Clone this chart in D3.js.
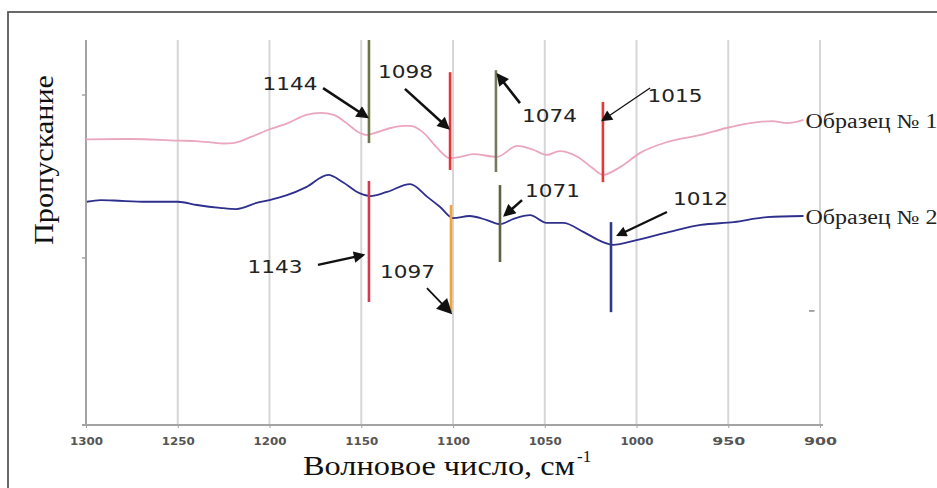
<!DOCTYPE html>
<html><head><meta charset="utf-8">
<script src="https://cdn.jsdelivr.net/npm/d3@7"></script>
<style>body{margin:0;background:#fff;} svg{display:block;}</style>
</head><body>
<svg id="chart" width="937" height="488"></svg>
<script>
// ---------- data ----------
const xTicks = [1300, 1250, 1200, 1150, 1100, 1050, 1000, 950, 900];
const yTickValues = [40, 80];
const seriesNames = ["Образец № 1", "Образец № 2"];

const wave1 = [1300,1275,1250,1240,1225,1220,1210,1200,1190,1180,1172,1165,1158,1152,1147,1142.5,1134,1127,1123,1116,1109,1101.6,1096,1089,1076,1065,1056,1049,1042,1032,1024,1018.3,1009,998,983,965,951,938,926,918,909];
const sample1 = [69.1,69.2,68.8,68.7,68.1,68.2,69.7,71.6,73.1,75.1,75.6,75.1,73.1,71.0,70.2,70.7,71.9,72.4,72.4,70.7,67.2,64.5,64.8,65.5,64.8,67.5,66.5,65.3,66.2,64.8,62.1,60.4,62.3,65.8,68.5,70.2,71.9,73.1,73.6,73.1,73.9];

const wave2 = [1299.5,1292,1285,1267,1250,1239.5,1227,1218,1207,1200,1190.5,1180,1168,1160,1151,1145,1136,1123.4,1114,1107,1100,1091,1081.5,1074.4,1067,1058,1049,1040,1029,1018.3,1012.8,1000,982,965,947,929,909];
const sample2 = [53.8,54.2,54.1,53.8,53.8,53.0,52.3,52.0,53.5,54.2,55.4,57.4,60.4,58.6,55.9,55.2,56.2,58.1,55.0,52.5,49.8,50.3,49.3,48.3,49.6,50.5,48.6,48.6,46.4,43.9,43.2,44.4,46.4,48.1,48.8,50.0,50.3];

// peak marker lines: label, wavenumber position, top value, bottom value
const peakLabels = ["1144", "1098", "1074", "1015", "1143", "1097", "1071", "1012"];
const peakPos    = [1145.8, 1101.6, 1076.6, 1018.3, 1145.8, 1101.1, 1074.4, 1013.9];
const peakTop    = [93.5, 85.6, 86.1, 78.3, 58.9, 53.0, 57.9, 48.8];
const peakBottom = [68.2, 61.6, 61.1, 58.6, 29.2, 26.7, 39.0, 26.7];

// annotation label anchors (wavenumber, value) and arrows (tail -> tip)
const labelW = [1188.8, 1125.9, 1047.4, 979.0, 1197.0, 1124.8, 1045.8, 965.1];
const labelV = [81.2, 84.2, 73.4, 78.3, 36.3, 35.1, 54.9, 53.0];
const arrowTailW = [1170.8, 1126.2, 1063.5, 992.6, 1173.6, 1114.2, 1062.4, 983.4];
const arrowTailV = [81.7, 81.5, 78.0, 81.7, 38.3, 32.6, 54.2, 51.3];
const arrowTipW  = [1146.9, 1102.7, 1075.5, 1018.3, 1149.0, 1101.6, 1071.7, 1010.1];
const arrowTipV  = [74.6, 71.9, 84.9, 73.85, 40.7, 26.7, 50.5, 45.6];

// ---------- styles ----------
const peakColors = ["#6c7546", "#e2353a", "#737b5c", "#e53935", "#d23a4e", "#f2a33a", "#5c6242", "#2d3a88"];
const arrowWidths = [2.6, 2.6, 2.6, 1.3, 2.4, 1.8, 2.6, 2.2];
const seriesColors = ["#eba6bf", "#2e2f8c"];

// ---------- chart ----------
const svg = d3.select("#chart");
const x = d3.scaleLinear().domain([1300, 900]).range([86, 820]);
const y = d3.scaleLinear().domain([-1, 93.5]).range([425, 40]);

svg.append("rect").attr("width", 937).attr("height", 488).attr("fill", "#fff");
// outer frame (extends past right/bottom edges)
svg.append("rect").attr("x", 8).attr("y", 12).attr("width", 960).attr("height", 500)
  .attr("fill", "none").attr("stroke", "#5a5a5a").attr("stroke-width", 1.8);

const defs = svg.append("defs");
defs.append("marker").attr("id", "ah").attr("viewBox", "0 0 10 10")
  .attr("refX", 8).attr("refY", 5).attr("markerWidth", 5.5).attr("markerHeight", 4.8)
  .attr("markerUnits", "strokeWidth").attr("orient", "auto")
  .append("path").attr("d", "M0,0 L10,5 L0,10 z").attr("fill", "#111");
defs.append("marker").attr("id", "ahThin").attr("viewBox", "0 0 10 10")
  .attr("refX", 8).attr("refY", 5).attr("markerWidth", 10).attr("markerHeight", 8.5)
  .attr("markerUnits", "strokeWidth").attr("orient", "auto")
  .append("path").attr("d", "M0,0 L10,5 L0,10 z").attr("fill", "#111");

// gridlines
svg.append("g").selectAll("line").data(xTicks.slice(1)).join("line")
  .attr("x1", d => x(d)).attr("x2", d => x(d))
  .attr("y1", y(93.5)).attr("y2", y(-1))
  .attr("stroke", "#d6d6d6").attr("stroke-width", 2);

// y axis line + ticks
svg.append("line").attr("x1", x(1300)).attr("x2", x(1300)).attr("y1", y(93.5)).attr("y2", y(-1))
  .attr("stroke", "#a3a3a3").attr("stroke-width", 2);
svg.append("g").selectAll("line").data(yTickValues).join("line")
  .attr("x1", x(1300) - 4).attr("x2", x(1300)).attr("y1", d => y(d)).attr("y2", d => y(d))
  .attr("stroke", "#a3a3a3").attr("stroke-width", 1.5);
// stray tick near right side
svg.append("line").attr("x1", x(906)).attr("x2", x(903)).attr("y1", y(27)).attr("y2", y(27))
  .attr("stroke", "#888").attr("stroke-width", 1.5);

// x axis
const xAxis = d3.axisBottom(x).tickValues(xTicks).tickSize(3).tickPadding(9).tickFormat(d3.format("d"));
const gx = svg.append("g").attr("transform", `translate(0,${y(-1)})`).call(xAxis);
gx.select(".domain").attr("stroke", "#a3a3a3").attr("stroke-width", 2).attr("d", `M${x(1300)-4},0H${x(900)+3}`);
gx.selectAll(".tick line").attr("stroke", "#a3a3a3");
gx.selectAll(".tick text").attr("font-family", "DejaVu Sans").attr("font-size", 11)
  .attr("font-weight", "bold").attr("fill", "#555")
  .attr("textLength", 33).attr("lengthAdjust", "spacingAndGlyphs");

// curves
const line = d3.line().x(d => x(d[0])).y(d => y(d[1])).curve(d3.curveMonotoneX);
const s1 = wave1.map((w, i) => [w, sample1[i]]).reverse();
const s2 = wave2.map((w, i) => [w, sample2[i]]).reverse();
[s1, s2].forEach((s, i) => {
  svg.append("path").datum(s).attr("d", line).attr("fill", "none")
    .attr("stroke", seriesColors[i]).attr("stroke-width", 1.8).attr("stroke-linejoin", "round");
});

// series labels
[[sample1, wave1], [sample2, wave2]].forEach(([vals, ws], i) => {
  svg.append("text").attr("x", x(ws[ws.length - 1]) + 2).attr("y", y(vals[vals.length - 1]) + 8)
    .attr("font-family", "Liberation Serif").attr("font-size", 20).attr("fill", "#222")
    .attr("textLength", 132).attr("lengthAdjust", "spacingAndGlyphs")
    .text(seriesNames[i]);
});

// peak lines
svg.append("g").selectAll("line").data(peakLabels).join("line")
  .attr("x1", (d, i) => x(peakPos[i])).attr("x2", (d, i) => x(peakPos[i]))
  .attr("y1", (d, i) => y(peakTop[i])).attr("y2", (d, i) => y(peakBottom[i]))
  .attr("stroke", (d, i) => peakColors[i]).attr("stroke-width", 2.6);

// arrows
svg.append("g").selectAll("line").data(peakLabels).join("line")
  .attr("x1", (d, i) => x(arrowTailW[i])).attr("y1", (d, i) => y(arrowTailV[i]))
  .attr("x2", (d, i) => x(arrowTipW[i])).attr("y2", (d, i) => y(arrowTipV[i]))
  .attr("stroke", "#111").attr("stroke-width", (d, i) => arrowWidths[i])
  .attr("marker-end", (d, i) => arrowWidths[i] < 2 ? "url(#ahThin)" : "url(#ah)");

// peak labels
svg.append("g").selectAll("text").data(peakLabels).join("text")
  .attr("x", (d, i) => x(labelW[i])).attr("y", (d, i) => y(labelV[i]))
  .attr("text-anchor", "middle").attr("font-family", "DejaVu Sans").attr("font-size", 18)
  .attr("fill", "#222").attr("textLength", 55).attr("lengthAdjust", "spacingAndGlyphs")
  .text(d => d);

// axis titles
const xt = svg.append("text").attr("x", 303).attr("y", 475)
  .attr("font-family", "Liberation Serif").attr("font-size", 27).attr("fill", "#111");
xt.append("tspan").attr("textLength", 272).attr("lengthAdjust", "spacingAndGlyphs").text("Волновое число, см");
xt.append("tspan").attr("font-size", 17).attr("dy", -13).attr("dx", 2).text("-1");

svg.append("text").attr("transform", "translate(53,160) rotate(-90)")
  .attr("text-anchor", "middle").attr("font-family", "Liberation Serif").attr("font-size", 28)
  .attr("fill", "#111").attr("textLength", 170).attr("lengthAdjust", "spacingAndGlyphs")
  .text("Пропускание");
</script>
</body></html>
